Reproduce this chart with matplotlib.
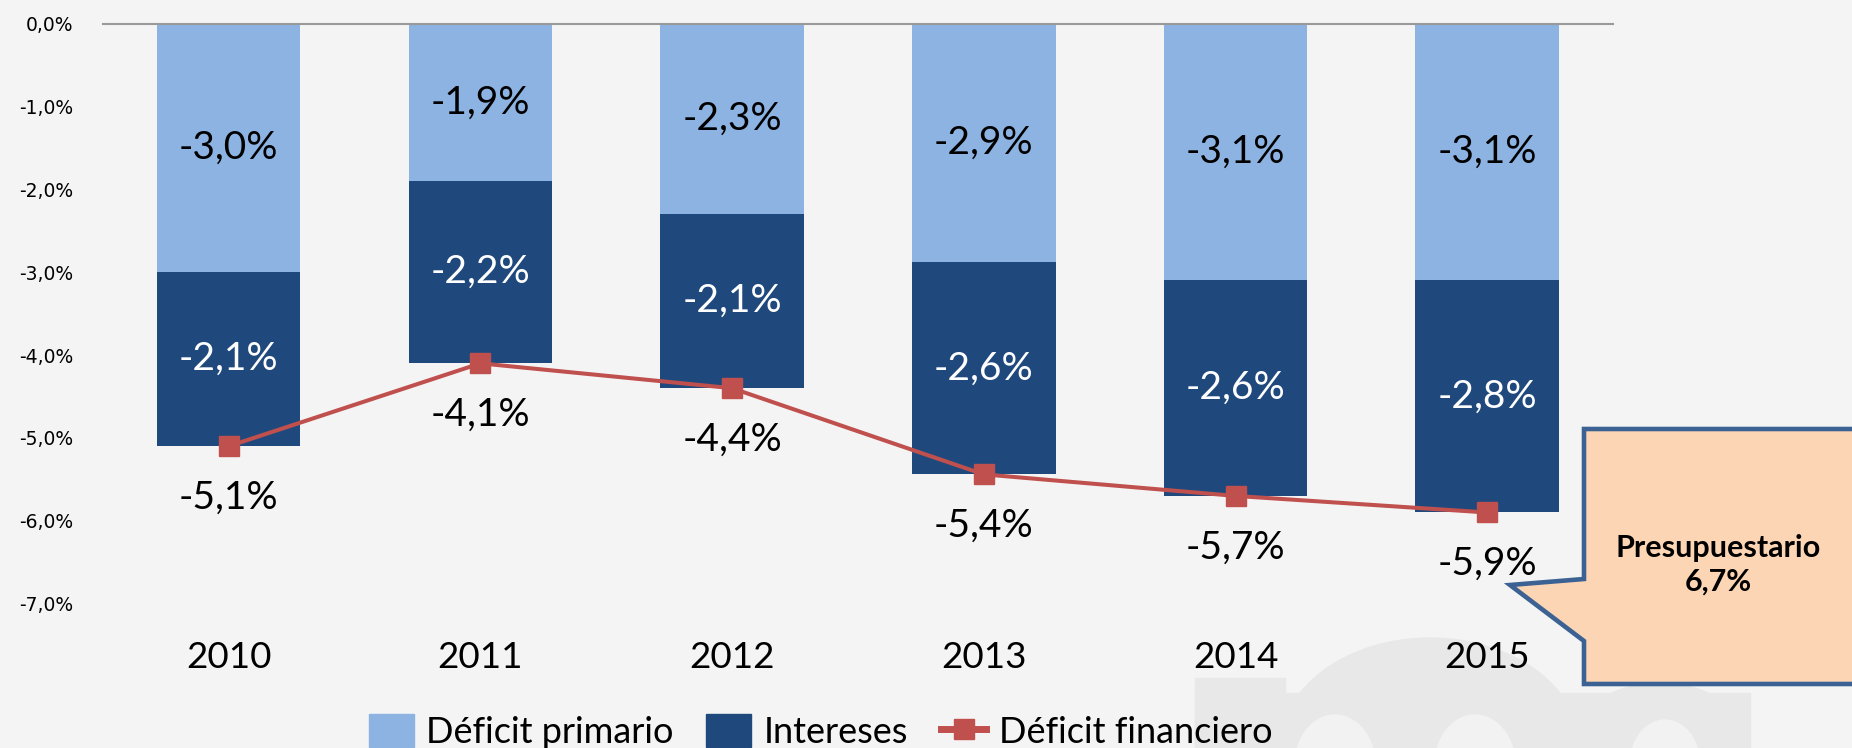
import matplotlib
matplotlib.use('Agg')
import matplotlib.pyplot as plt
import matplotlib.patches as mpatches
from matplotlib.lines import Line2D
import numpy as np

# ── Data (% del PIB) ──
years = ['2010', '2011', '2012', '2013', '2014', '2015']
deficit_primario = [-3.0, -1.9, -2.3, -2.88, -3.1, -3.1]
intereses = [-2.1, -2.2, -2.1, -2.56, -2.6, -2.8]
deficit_financiero = [-5.1, -4.1, -4.4, -5.44, -5.7, -5.9]
yticks = [0, -1, -2, -3, -4, -5, -6, -7]
callout_text = 'Presupuestario\n6,7%'

C_PRIM = '#8db3e2'
C_INT = '#1f497d'
C_FIN = '#c0504d'
BG = '#f4f4f4'
W, H = 1852, 748

plt.rcParams['font.family'] = ['Lato', 'DejaVu Sans']

fig = plt.figure(figsize=(W / 100, H / 100), dpi=100, facecolor=BG)


def px(x, y):
    # pixel position (from top-left) -> figure fraction
    return (x / W, 1 - y / H)


# faint watermark in the lower right
wm = '#e8e8e8'
hole = '#f2f2f2'
shapes = [
    mpatches.Rectangle(px(1195, 748), 555 / W, 55 / H, color=wm),
    mpatches.Rectangle(px(1195, 748), 90 / W, 70 / H, color=wm),
    mpatches.Ellipse(px(1430, 748), 300 / W, 220 / H, color=wm),
    mpatches.Ellipse(px(1660, 748), 180 / W, 130 / H, color=wm),
    mpatches.Ellipse(px(1335, 765), 80 / W, 100 / H, color=hole),
    mpatches.Ellipse(px(1475, 765), 80 / W, 100 / H, color=hole),
    mpatches.Ellipse(px(1665, 765), 70 / W, 90 / H, color=hole),
]
for s in shapes:
    s.set_transform(fig.transFigure)
    s.set_zorder(-5)
    fig.patches.append(s)

ax = fig.add_axes([0.0555, 0.193, 0.8155, 0.7754])
ax.set_facecolor('none')

x = np.arange(len(years))
bw = 0.57
ax.bar(x, deficit_primario, width=bw, color=C_PRIM, zorder=2)
ax.bar(x, intereses, width=bw, bottom=deficit_primario, color=C_INT, zorder=2)
ax.plot(x, deficit_financiero, color=C_FIN, linewidth=2.9, marker='s',
        markersize=14, zorder=4)


def fmt(v):
    return f'{v:.1f}%'.replace('.', ',')


for i in range(len(years)):
    p, it, f = deficit_primario[i], intereses[i], deficit_financiero[i]
    ax.text(i, p / 2, fmt(p), ha='center', va='center', fontsize=28,
            color='black', zorder=5)
    ax.text(i, p + it / 2, fmt(it), ha='center', va='center', fontsize=28,
            color='white', zorder=5)
    ax.annotate(fmt(f), (i, f), xytext=(0, -37), textcoords='offset points',
                ha='center', va='center', fontsize=28, color='black', zorder=5)

ax.axhline(0, color='#999999', linewidth=1.5, clip_on=False, zorder=3)
ax.set_xlim(-0.5, len(years) - 0.5)
ax.set_ylim(-7, 0)
ax.set_xticks(x)
ax.set_xticklabels(years, fontsize=26.5)
ax.set_yticks(yticks)
ax.set_yticklabels([fmt(v) for v in yticks], fontsize=13.5,
                   family=['DejaVu Sans'])
ax.tick_params(axis='x', length=0, pad=27)
ax.tick_params(axis='y', length=0, pad=21)
for sp in ax.spines.values():
    sp.set_visible(False)

# legend
handles = [
    mpatches.Patch(color=C_PRIM, label='Déficit primario'),
    mpatches.Patch(color=C_INT, label='Intereses'),
    Line2D([], [], color=C_FIN, linewidth=5, marker='s', markersize=14,
           label='Déficit financiero'),
]
fig.legend(handles=handles, loc='center', bbox_to_anchor=(0.443, 0.022),
           ncol=3, frameon=False, fontsize=26, handlelength=1.25,
           handleheight=1.0, handletextpad=0.35, columnspacing=0.9)

# callout box
pts = [(1584, 429), (1870, 429), (1870, 684), (1584, 684), (1584, 641),
       (1510, 585), (1584, 579)]
call = mpatches.Polygon([px(a, b) for a, b in pts], closed=True,
                        transform=fig.transFigure, facecolor='#fcd5b5',
                        edgecolor='#3c6293', linewidth=3.3, zorder=6,
                        joinstyle='miter')
fig.patches.append(call)
fig.text(*px(1718, 565), callout_text, ha='center', va='center', fontsize=22,
         fontweight='bold', linespacing=1.25, zorder=7)

fig.savefig('out.png', dpi=100, facecolor=BG)
